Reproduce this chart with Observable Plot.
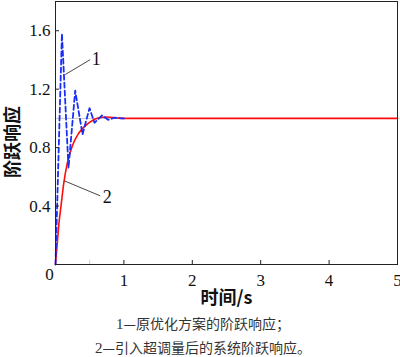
<!DOCTYPE html>
<html>
<head>
<meta charset="utf-8">
<script src="https://cdn.jsdelivr.net/npm/d3@7"></script>
<script src="https://cdn.jsdelivr.net/npm/@observablehq/plot@0.6"></script>
<style>
  body { margin: 0; background: #fff; }
  #wrap { width: 400px; height: 357px; position: relative; overflow: hidden; }
  #cap { width: 400px; text-align: center; font-family: "Noto Sans CJK SC", sans-serif; font-size: 14px; line-height: 23px; color: #333; margin-left: 3px; }
  #cap .n { font-family: "Liberation Serif", "Times New Roman", "DejaVu Serif", serif; font-size: 15px; }
  svg text { font-family: "Liberation Serif", "Times New Roman", "DejaVu Serif", serif !important; }
  svg text.cjk, svg g.cjk text { font-family: "Noto Sans CJK SC", sans-serif !important; }
</style>
</head>
<body>
<div id="wrap"></div>
<script>
// curve 1: original optimized scheme (blue dashed)
const blueT = [0, 0.094, 0.19, 0.288, 0.395, 0.497, 0.57, 0.68, 0.77, 0.87, 0.97, 1.0];
const blueY = [0, 1.58, 0.66, 1.19, 0.89, 1.07, 0.97, 1.02, 0.99, 1.005, 1.0, 1.0];
// curve 2: with overshoot introduced (red)
const redT = [0, 0.025, 0.05, 0.083, 0.122, 0.171, 0.244, 0.342, 0.488, 0.634, 0.75, 0.9, 1.0, 5];
const redY = [0, 0.14, 0.28, 0.41, 0.56, 0.69, 0.81, 0.90, 0.97, 1.004, 1.01, 1.003, 1.0, 1.0];
// axes
const xTicks = [1, 2, 3, 4, 5];
const xMinorTicks = [0.5];
const yTicks = [0.4, 0.8, 1.2, 1.6];
const xDomain = [0, 5];
const yDomain = [0, 1.8];
// reference level line (grey, 0..1 s)
const refLevel = [{t1: 0, t2: 1, y: 1}];
// curve labels with leader lines
const labelNames = ["1", "2"];
const leaderFromT = [0.142, 0.127];
const leaderFromY = [1.30, 0.573];
const leaderToT = [0.507, 0.654];
const leaderToY = [1.402, 0.47];
const labelT = [0.53, 0.69];
const labelY = [1.405, 0.463];
const xLabel = "时间/s";
const yLabel = "阶跃响应";
const captionLines = [["1", "—原优化方案的阶跃响应；"], ["2", "—引入超调量后的系统阶跃响应。"]];

const blue = blueT.map((t, i) => ({t, y: blueY[i]}));
const red = redT.map((t, i) => ({t, y: redY[i]}));
const labels = labelNames.map((n, i) => ({
  n, x1: leaderFromT[i], y1: leaderFromY[i], x2: leaderToT[i], y2: leaderToY[i], lx: labelT[i], ly: labelY[i]
}));

const chart = Plot.plot({
  width: 400,
  height: 312,
  marginLeft: 55,
  marginRight: 3,
  marginTop: 1,
  marginBottom: 48,
  style: {background: "#fff", color: "#111"},
  x: {domain: xDomain},
  y: {domain: yDomain},
  marks: [
    Plot.ruleY(refLevel, {x1: "t1", x2: "t2", y: "y", stroke: "#c8c8c8", strokeWidth: 1}),
    Plot.line(red, {x: "t", y: "y", stroke: "#ff0d0d", strokeWidth: 1.6, curve: "monotone-x"}),
    Plot.line(blue, {x: "t", y: "y", stroke: "#1a2ff5", strokeWidth: 1.8, strokeDasharray: "5,3"}),
    Plot.link(labels, {x1: "x1", y1: "y1", x2: "x2", y2: "y2", stroke: "#333", strokeWidth: 0.9}),
    Plot.text(labels, {x: "lx", y: "ly", text: "n", textAnchor: "start", fontSize: 18, fill: "#111"}),
    Plot.frame({stroke: "#222", strokeWidth: 1}),
    // inward ticks
    Plot.axisX({ticks: xTicks, tickSize: -4, tickPadding: 13, fontSize: 17, label: null, tickFormat: d => String(d), stroke: "#222"}),
    Plot.axisX({ticks: xMinorTicks, tickSize: -4, text: null, label: null, stroke: "#ccc"}),
    Plot.axisY({ticks: yTicks, tickSize: -4, tickPadding: 9, fontSize: 17, label: null, tickFormat: d => d.toFixed(1), stroke: "#222"}),
    Plot.text([0], {x: d => d, frameAnchor: "bottom", dy: 15, dx: -6, text: d => String(d), fontSize: 17}),
    Plot.text([xLabel], {frameAnchor: "bottom", dy: 39, text: d => d, fontSize: 18, fontWeight: "bold", fill: "#111", className: "cjk"}),
    Plot.text([yLabel], {frameAnchor: "left", dx: -42, dy: 9, rotate: -90, textAnchor: "middle", text: d => d, fontSize: 18, fontWeight: "bold", fill: "#111", className: "cjk"})
  ]
});

const wrap = document.getElementById("wrap");
wrap.appendChild(chart);
const cap = document.createElement("div");
cap.id = "cap";
cap.innerHTML = captionLines.map(([n, s]) => `<div><span class="n">${n}</span>${s}</div>`).join("");
wrap.appendChild(cap);
</script>
</body>
</html>
